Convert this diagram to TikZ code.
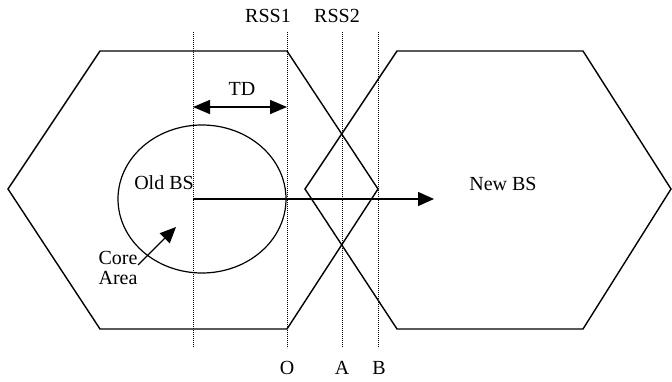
\documentclass[tikz,border=0pt]{standalone}
\usepackage{fontspec}
\setmainfont{Liberation Serif}
\usetikzlibrary{arrows.meta}
\begin{document}
\begin{tikzpicture}[x=1pt,y=-1pt,
  solid line/.style={line width=1.4pt,line join=miter},
  guide/.style={line width=0.9pt,dotted,dash pattern=on 0.9pt off 1.1pt},
  lbl/.style={font=\fontsize{20}{23}\selectfont,inner sep=0pt},
  bigtip/.style={-{Triangle[length=16pt,width=14pt]}},
  bothtip/.style={{Triangle[length=17pt,width=14pt]}-{Triangle[length=17pt,width=14pt]}}]
\useasboundingbox (0,0) rectangle (672,382);
% hexagons
\draw[solid line] (8,189) -- (100,51) -- (287,51) -- (378,189) -- (287,329) -- (100,329) -- cycle;
\draw[solid line] (305,189) -- (397,51) -- (583,51) -- (671,189) -- (583,329) -- (397,329) -- cycle;
% core area ellipse
\draw[line width=1.2pt] (202,199) ellipse [x radius=84, y radius=74];
% dotted guides
\coordinate (g1t) at (193,32); \coordinate (g1b) at (193,348);
\coordinate (g2t) at (287,32); \coordinate (g2b) at (287,348);
\coordinate (g3t) at (342,32); \coordinate (g3b) at (342,348);
\coordinate (g4t) at (378,32); \coordinate (g4b) at (378,348);
\draw[guide] (g1t) -- (g1b);
\draw[guide] (g2t) -- (g2b);
\draw[guide] (g3t) -- (g3b);
\draw[guide] (g4t) -- (g4b);
% labels
\node[lbl] (rss1) at (268,16) {RSS1};
\node[lbl] (rss2) at (337,16) {RSS2};
\node[lbl] (td) at (242,89) {TD};
\node[lbl] (old) at (164,183) {Old BS};
\node[lbl] (new) at (503,184) {New BS};
\node[lbl,align=center] (core) at (118,268) {Core\\[-3pt]Area};
\node[lbl] (o) at (287,368) {O};
\node[lbl] (a) at (342,368) {A};
\node[lbl] (b) at (379,368) {B};
% arrows
\coordinate (tdl) at (193,107); \coordinate (tdr) at (287,107);
\draw[line width=1.4pt,bothtip] (tdl) -- (tdr);
\coordinate (mvs) at (193,199); \coordinate (mve) at (434,199);
\draw[line width=1.4pt,bigtip] (mvs) -- (mve);
\coordinate (cs) at (138,265); \coordinate (ce) at (176,227);
\draw[line width=1.4pt,bigtip] (cs) -- (ce);
\end{tikzpicture}
\end{document}
